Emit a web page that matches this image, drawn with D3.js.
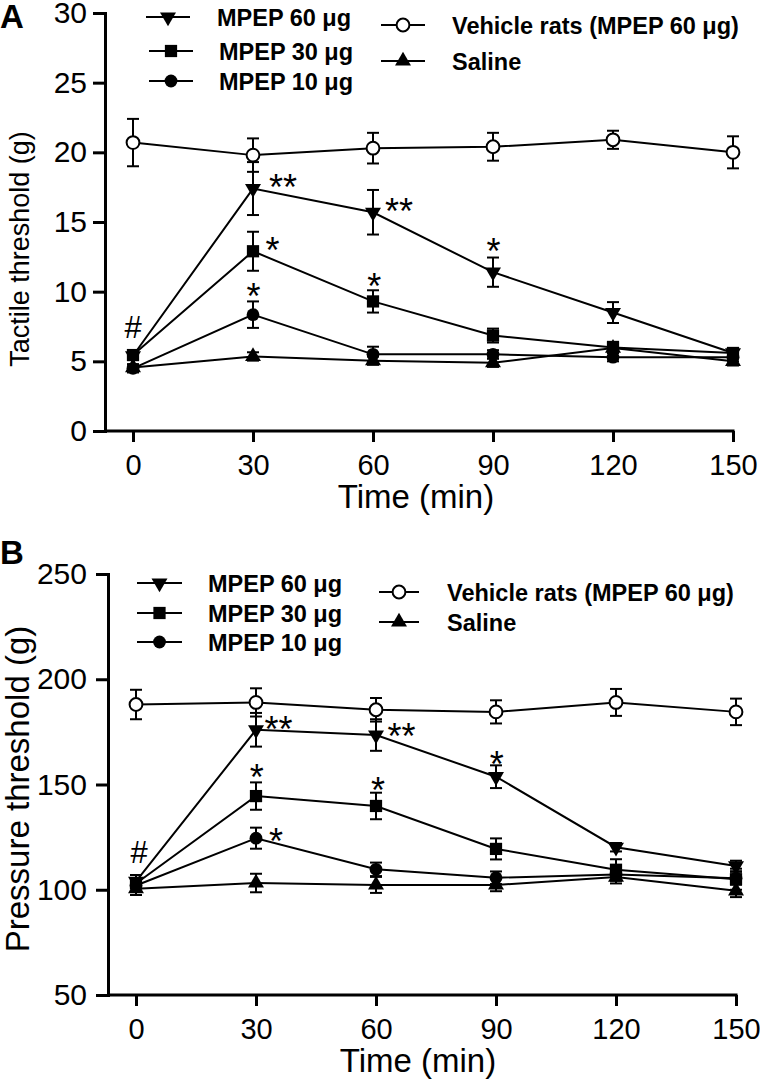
<!DOCTYPE html>
<html><head><meta charset="utf-8">
<script src="https://cdn.jsdelivr.net/npm/d3@7"></script>
<style>
body{margin:0;background:#fff}
svg{display:block}
text{font-family:"Liberation Sans",Arial,Helvetica,sans-serif;fill:#000}
</style>
</head><body>
<svg id="chart" width="760" height="1091"></svg>
<script>
// ---------- DATA ----------
const timePoints = [0, 30, 60, 90, 120, 150];
const timeTicks = [0, 30, 60, 90, 120, 150];
const tactileTicks = [0, 5, 10, 15, 20, 25, 30];
const pressureTicks = [50, 100, 150, 200, 250];

const seriesLabels = ["MPEP 60 μg", "MPEP 30 μg", "MPEP 10 μg", "Vehicle rats (MPEP 60 μg)", "Saline"];
const seriesSymbols = ["triDown", "square", "circle", "openCircle", "triUp"];

// Panel A: tactile threshold (g)
const tactileMpep60 = [5.4, 17.4, 15.7, 11.4, 8.5, 5.6];
const tactileMpep60Err = [0.3, 1.9, 1.6, 1.05, 0.75, 0.3];
const tactileMpep30 = [5.45, 12.9, 9.3, 6.85, 6.0, 5.6];
const tactileMpep30Err = [0.3, 1.4, 0.8, 0.5, 0.4, 0.3];
const tactileMpep10 = [4.5, 8.35, 5.5, 5.5, 5.3, 5.3];
const tactileMpep10Err = [0.3, 0.95, 0.55, 0.3, 0.3, 0.3];
const tactileVehicle = [20.7, 19.8, 20.3, 20.4, 20.9, 20.0];
const tactileVehicleErr = [1.7, 1.2, 1.1, 1.0, 0.65, 1.15];
const tactileSaline = [4.55, 5.35, 5.05, 4.9, 5.95, 5.0];
const tactileSalineErr = [0.2, 0.3, 0.3, 0.3, 0.3, 0.3];

// Panel B: pressure threshold (g)
const pressureMpep60 = [104, 176, 173.5, 153.7, 120.2, 111.3];
const pressureMpep60Err = [3, 8, 7.5, 5.4, 2, 2.5];
const pressureMpep30 = [103, 144.5, 139.8, 119.4, 109.5, 105];
const pressureMpep30Err = [4, 6.5, 6.3, 5, 5, 5];
const pressureMpep10 = [102, 124.5, 109.7, 105.7, 107.3, 105.5];
const pressureMpep10Err = [3, 5, 3.2, 3, 3, 3];
const pressureVehicle = [188, 189, 185.5, 184.5, 189, 184.5];
const pressureVehicleErr = [7, 6.7, 5.6, 5.5, 6.4, 6.3];
const pressureSaline = [100.5, 103.2, 102.3, 102.3, 106, 99.5];
const pressureSalineErr = [3, 4.4, 3.8, 3, 3, 3];

// significance marks (text, time, value at glyph centre)
const tactileMarks = [
  {text: "#", t: 0, v: 7.47},
  {text: "**", t: 37.5, v: 18.09},
  {text: "**", t: 66.5, v: 16.37},
  {text: "*", t: 34.9, v: 13.57},
  {text: "*", t: 60.3, v: 10.96},
  {text: "*", t: 30.1, v: 10.24},
  {text: "*", t: 90.1, v: 13.47}
];
const pressureMarks = [
  {text: "#", t: 0.75, v: 118.1},
  {text: "**", t: 35.6, v: 180.2},
  {text: "**", t: 66.4, v: 176.7},
  {text: "*", t: 30.2, v: 157.3},
  {text: "*", t: 60.5, v: 151.2},
  {text: "*", t: 35, v: 127},
  {text: "*", t: 90.2, v: 163.6}
];

// ---------- DRAWING ----------
const svg = d3.select("#chart");

function symbolPath(type) {
  if (type === "triDown" || type === "triUp") return d3.symbol(d3.symbolTriangle, 110)();
  if (type === "square") return d3.symbol(d3.symbolSquare, 150)();
  return d3.symbol(d3.symbolCircle, Math.PI * 6.4 * 6.4)();
}
function drawSymbol(g, type, cx, cy) {
  const p = g.append("path").attr("d", symbolPath(type))
    .attr("transform", `translate(${cx},${cy})` + (type === "triDown" ? " rotate(180)" : ""));
  if (type === "openCircle") p.attr("fill", "#fff").attr("stroke", "#000").attr("stroke-width", 2);
  else p.attr("fill", "#000");
}

function drawPanel(cfg) {
  const g = svg.append("g");
  const x = d3.scaleLinear().domain([0, 150]).range(cfg.xRange);
  const y = d3.scaleLinear().domain(cfg.yDomain).range(cfg.yRange);
  const y0 = cfg.yRange[0];

  // x axis
  const gx = g.append("g").attr("transform", `translate(0,${y0})`)
    .call(d3.axisBottom(x).tickValues(timeTicks).tickSize(11).tickPadding(12).tickSizeOuter(0));
  gx.select(".domain").remove();
  gx.selectAll(".tick line").attr("stroke", "#000").attr("stroke-width", 3);
  gx.attr("font-size", 29);
  g.append("line").attr("x1", cfg.axisX).attr("x2", x(150) + 1.5)
    .attr("y1", y0).attr("y2", y0).attr("stroke", "#000").attr("stroke-width", 3);

  // y axis
  const gy = g.append("g").attr("transform", `translate(${cfg.axisX},0)`)
    .call(d3.axisLeft(y).tickValues(cfg.yTicks).tickSize(12).tickPadding(cfg.yPad).tickSizeOuter(0));
  gy.select(".domain").attr("stroke", "#000").attr("stroke-width", 3).attr("stroke-linecap", "square");
  gy.selectAll(".tick line").attr("stroke", "#000").attr("stroke-width", 3);
  gy.attr("font-size", 30);

  // titles
  g.append("text").attr("x", cfg.xTitleX).attr("y", y0 + 77).attr("text-anchor", "middle")
    .attr("font-size", 33).text("Time (min)");
  g.append("text").attr("transform", `translate(29,${cfg.yTitleY}) rotate(-90)`)
    .attr("text-anchor", "middle").attr("font-size", cfg.yTitleSize).text(cfg.yTitle);
  g.append("text").attr("x", 0).attr("y", cfg.letterY).attr("font-size", 33)
    .attr("font-weight", "bold").text(cfg.letter);

  // lines
  const line = d3.line().x((d, i) => x(timePoints[i])).y(d => y(d));
  cfg.series.forEach(s => {
    g.append("path").attr("d", line(s.values)).attr("fill", "none")
      .attr("stroke", "#000").attr("stroke-width", 2);
  });
  // error bars
  cfg.series.forEach(s => {
    s.values.forEach((v, i) => {
      const cx = x(timePoints[i]), e = s.errors[i];
      const yt = y(v + e), yb = y(v - e);
      g.append("line").attr("x1", cx).attr("x2", cx).attr("y1", yt).attr("y2", yb)
        .attr("stroke", "#000").attr("stroke-width", 2);
      [yt, yb].forEach(yy => g.append("line").attr("x1", cx - 6).attr("x2", cx + 6)
        .attr("y1", yy).attr("y2", yy).attr("stroke", "#000").attr("stroke-width", 2));
    });
  });
  // markers
  cfg.series.forEach(s => {
    s.values.forEach((v, i) => drawSymbol(g, s.symbol, x(timePoints[i]), y(v)));
  });

  // significance marks
  cfg.marks.forEach(m => {
    const star = m.text !== "#";
    const fs = star ? 36 : 31;
    g.append("text").attr("x", x(m.t)).attr("y", y(m.v) + (star ? 0.58 * fs : 0.36 * fs))
      .attr("text-anchor", "middle").attr("font-size", fs).text(m.text);
  });

  // legend
  cfg.legend.forEach(L => {
    const idx = L.index;
    g.append("line").attr("x1", L.x1).attr("x2", L.x2).attr("y1", L.y).attr("y2", L.y)
      .attr("stroke", "#000").attr("stroke-width", 2);
    drawSymbol(g, seriesSymbols[idx], (L.x1 + L.x2) / 2, L.y);
    g.append("text").attr("x", L.tx).attr("y", L.y + 8.5).attr("font-size", 23.5)
      .attr("font-weight", "bold").text(seriesLabels[idx]);
  });
}

function makeSeries(vals, errs) {
  return vals.map((v, k) => ({values: v, errors: errs[k], symbol: seriesSymbols[k]}));
}

drawPanel({
  letter: "A", letterY: 28,
  xRange: [133, 733], axisX: 105,
  yDomain: [0, 30], yRange: [431, 13], yTicks: tactileTicks,
  yPad: 6,
  xTitleX: 416,
  yTitle: "Tactile threshold (g)", yTitleY: 249, yTitleSize: 27,
  series: makeSeries(
    [tactileMpep60, tactileMpep30, tactileMpep10, tactileVehicle, tactileSaline],
    [tactileMpep60Err, tactileMpep30Err, tactileMpep10Err, tactileVehicleErr, tactileSalineErr]
  ).reverse(),
  marks: tactileMarks,
  legend: [
    {index: 0, x1: 146, x2: 190, y: 17, tx: 217},
    {index: 1, x1: 149, x2: 193, y: 51, tx: 219},
    {index: 2, x1: 149, x2: 193, y: 81, tx: 219},
    {index: 3, x1: 381, x2: 425, y: 25, tx: 452},
    {index: 4, x1: 381, x2: 425, y: 61, tx: 452}
  ]
});

drawPanel({
  letter: "B", letterY: 564,
  xRange: [136, 736], axisX: 108,
  yDomain: [50, 250], yRange: [995, 574], yTicks: pressureTicks,
  yPad: 9,
  xTitleX: 418,
  yTitle: "Pressure threshold (g)", yTitleY: 789, yTitleSize: 33,
  series: makeSeries(
    [pressureMpep60, pressureMpep30, pressureMpep10, pressureVehicle, pressureSaline],
    [pressureMpep60Err, pressureMpep30Err, pressureMpep10Err, pressureVehicleErr, pressureSalineErr]
  ).reverse(),
  marks: pressureMarks,
  legend: [
    {index: 0, x1: 137, x2: 182, y: 583, tx: 208},
    {index: 1, x1: 137, x2: 182, y: 613, tx: 208},
    {index: 2, x1: 137, x2: 182, y: 642, tx: 208},
    {index: 3, x1: 379, x2: 419, y: 592, tx: 447},
    {index: 4, x1: 379, x2: 419, y: 622, tx: 447}
  ]
});
</script>
</body></html>
